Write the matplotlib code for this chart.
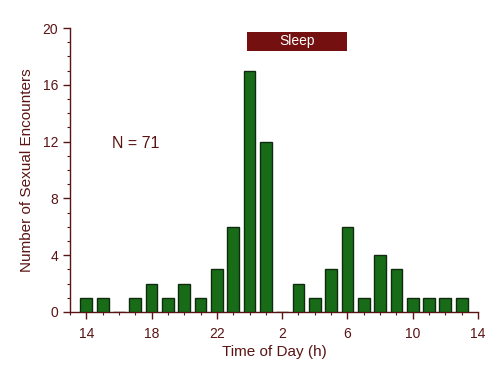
import matplotlib
matplotlib.use("Agg")
import matplotlib.pyplot as plt
from matplotlib.ticker import MultipleLocator, FixedLocator
from matplotlib.patches import Rectangle

# Data: hour of day (continuous from 14h to 13h next day) and counts
hours = [14, 15, 16, 17, 18, 19, 20, 21, 22, 23, 24, 25, 26, 27, 28, 29, 30, 31, 32, 33, 34, 35, 36, 37]
counts = [1, 1, 0, 1, 2, 1, 2, 1, 3, 6, 17, 12, 0, 2, 1, 3, 6, 1, 4, 3, 1, 1, 1, 1]
tick_pos = [14, 18, 22, 26, 30, 34, 38]
tick_labels = ["14", "18", "22", "2", "6", "10", "14"]
sleep_start, sleep_end = 23.85, 30.0

plt.rcParams['font.family'] = ['Liberation Sans', 'DejaVu Sans']
txt = '#5a1414'
green = '#186c18'

fig = plt.figure(figsize=(5, 3.7), dpi=100)
ax = fig.add_axes([0.14, 0.157, 0.816, 0.767])

ax.bar(hours, counts, width=0.72, color=green, edgecolor='#102a10', linewidth=1.0, zorder=3)

ax.set_xlim(13.0, 38.0)
ax.set_ylim(0, 20)
ax.xaxis.set_major_locator(FixedLocator(tick_pos))
ax.set_xticklabels(tick_labels)
ax.xaxis.set_minor_locator(MultipleLocator(1))
ax.yaxis.set_major_locator(MultipleLocator(4))
ax.yaxis.set_minor_locator(MultipleLocator(1))

for s in ['top', 'right']:
    ax.spines[s].set_visible(False)
for s in ['left', 'bottom']:
    ax.spines[s].set_color(txt)
    ax.spines[s].set_linewidth(1.0)

ax.tick_params(axis='both', which='major', direction='out', length=5, width=1, color=txt,
               labelcolor=txt, labelsize=10)
ax.tick_params(axis='both', which='minor', direction='out', length=2.5, width=0.8, color=txt)
ax.tick_params(axis='x', which='major', pad=6)

ax.set_xlabel('Time of Day (h)', color=txt, fontsize=11, labelpad=3)
ax.set_ylabel('Number of Sexual Encounters', color=txt, fontsize=11, labelpad=6)

ax.text(15.6, 11.9, 'N = 71', color=txt, fontsize=11.5, va='center', ha='left')

ax.add_patch(Rectangle((sleep_start, 18.4), sleep_end - sleep_start, 1.35,
                       facecolor='#741010', edgecolor='none', clip_on=False, zorder=4))
ax.text((sleep_start + sleep_end) / 2, 19.07, 'Sleep', color='white', fontsize=10,
        ha='center', va='center', zorder=5)

fig.savefig('out.png', dpi=100)
